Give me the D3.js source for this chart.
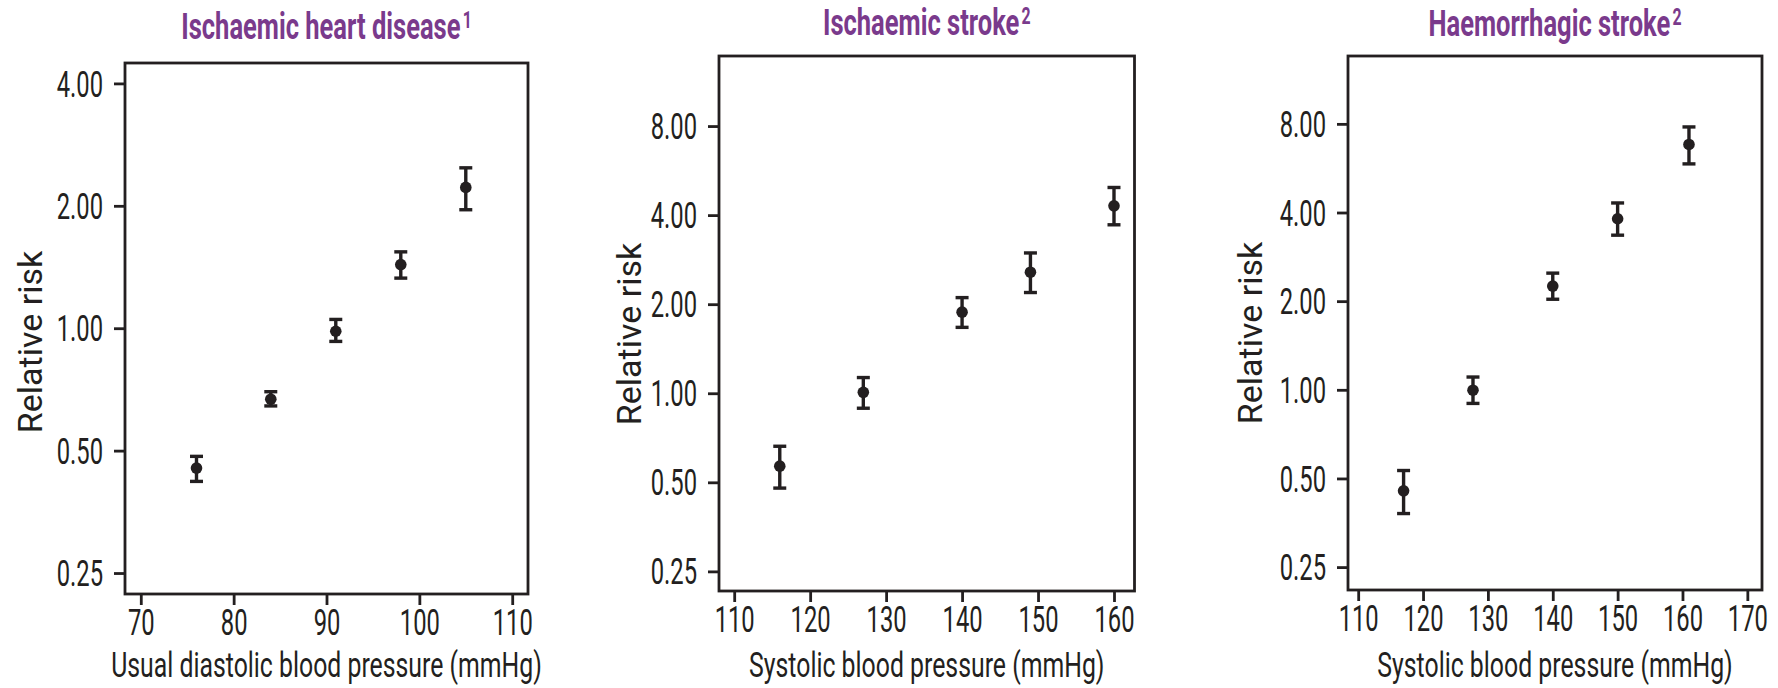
<!DOCTYPE html>
<html><head><meta charset="utf-8">
<script src="https://cdn.jsdelivr.net/npm/d3@7"></script>
<style>
body{margin:0;background:#fff;}
svg{display:block;}
text{font-family:Roboto,"Open Sans",sans-serif;fill:#231f20;}
</style></head><body>
<svg id="chart" width="1778" height="688"></svg>
<script>
// ---------- data ----------
// Ischaemic heart disease vs usual diastolic BP
const ihdBP = [76, 84, 91, 98, 105];
const ihdRR = [0.453, 0.669, 0.983, 1.434, 2.22];
const ihdLo = [0.420, 0.644, 0.928, 1.328, 1.956];
const ihdHi = [0.484, 0.698, 1.051, 1.541, 2.48];
// Ischaemic stroke vs systolic BP
const isBP = [116, 127, 140, 149, 160];
const isRR = [0.567, 1.007, 1.88, 2.565, 4.30];
const isLo = [0.478, 0.89, 1.67, 2.19, 3.71];
const isHi = [0.662, 1.13, 2.105, 2.98, 4.96];
// Haemorrhagic stroke vs systolic BP
const hsBP = [117, 127.7, 140, 150, 161];
const hsRR = [0.454, 0.997, 2.25, 3.81, 6.81];
const hsLo = [0.380, 0.899, 2.03, 3.35, 5.85];
const hsHi = [0.532, 1.105, 2.49, 4.31, 7.81];
// tick labels
const ihdXTicks = [70, 80, 90, 100, 110];
const isXTicks = [110, 120, 130, 140, 150, 160];
const hsXTicks = [110, 120, 130, 140, 150, 160, 170];
const ihdYTicks = [0.25, 0.5, 1, 2, 4];
const strokeYTicks = [0.25, 0.5, 1, 2, 4, 8];
// titles
const titles = ["Ischaemic heart disease", "Ischaemic stroke", "Haemorrhagic stroke"];
const titleSups = ["1", "2", "2"];
const xTitles = ["Usual diastolic blood pressure (mmHg)", "Systolic blood pressure (mmHg)", "Systolic blood pressure (mmHg)"];
const yTitle = "Relative risk";

// ---------- layout ----------
const INK = "#231f20", PURPLE = "#7a3a8c";
const panels = [
  {bp: ihdBP, rr: ihdRR, lo: ihdLo, hi: ihdHi, xTicks: ihdXTicks, yTicks: ihdYTicks,
   box: {l: 125, r: 528, t: 63, b: 594}, xDom: [68.3, 111.7], yDom: [0.222, 4.49],
   yLabX: 42, yLabY: 342, titleY: 39},
  {bp: isBP, rr: isRR, lo: isLo, hi: isHi, xTicks: isXTicks, yTicks: strokeYTicks,
   box: {l: 719, r: 1134.5, t: 56, b: 591}, xDom: [108.0, 162.7], yDom: [0.2146, 13.8],
   yLabX: 641, yLabY: 334, titleY: 35},
  {bp: hsBP, rr: hsRR, lo: hsLo, hi: hsHi, xTicks: hsXTicks, yTicks: strokeYTicks,
   box: {l: 1348, r: 1762, t: 56, b: 590}, xDom: [108.43, 172.26], yDom: [0.209, 13.6],
   yLabX: 1262, yLabY: 333, titleY: 36}
];

const svg = d3.select("#chart");

// horizontally condense texts via a transform (keeps anchor point fixed)
function squeeze(sel, k, rot) {
  sel.each(function () {
    const x = +(this.getAttribute("x") || 0), y = +(this.getAttribute("y") || 0);
    this.setAttribute("x", 0);
    this.setAttribute("y", 0);
    this.setAttribute("transform",
      `translate(${x},${y})` + (rot ? ` rotate(${rot})` : "") + ` scale(${k},1)`);
  });
}

panels.forEach((p, i) => {
  const g = svg.append("g");
  const x = d3.scaleLinear().domain(p.xDom).range([p.box.l, p.box.r]);
  const y = d3.scaleLog().base(2).domain(p.yDom).range([p.box.b, p.box.t]);
  const cx = (p.box.l + p.box.r) / 2;

  // y axis
  const ya = g.append("g").attr("transform", `translate(${p.box.l},0)`)
    .call(d3.axisLeft(y).tickValues(p.yTicks).tickFormat(d3.format(".2f"))
      .tickSize(11).tickSizeOuter(0).tickPadding(11));
  ya.select(".domain").remove();
  ya.attr("font-family", null).attr("font-size", null);
  ya.selectAll("line").attr("stroke", INK).attr("stroke-width", 2.8);
  ya.selectAll("text").attr("font-size", 36).attr("fill", INK).attr("dy", "0.35em").call(squeeze, 0.66);

  // x axis
  const xa = g.append("g").attr("transform", `translate(0,${p.box.b})`)
    .call(d3.axisBottom(x).tickValues(p.xTicks).tickFormat(d3.format("d"))
      .tickSize(11).tickSizeOuter(0).tickPadding(4));
  xa.select(".domain").remove();
  xa.attr("font-family", null).attr("font-size", null);
  xa.selectAll("line").attr("stroke", INK).attr("stroke-width", 2.8);
  xa.selectAll("text").attr("font-size", 36).attr("fill", INK).call(squeeze, 0.66);

  // box
  g.append("rect")
    .attr("x", p.box.l).attr("y", p.box.t)
    .attr("width", p.box.r - p.box.l).attr("height", p.box.b - p.box.t)
    .attr("fill", "none").attr("stroke", INK).attr("stroke-width", 2.8);

  // error bars & points
  const data = p.bp.map((v, j) => ({x: v, rr: p.rr[j], lo: p.lo[j], hi: p.hi[j]}));
  const eb = g.append("g").attr("stroke", INK).attr("stroke-width", 3.4);
  eb.selectAll("line.v").data(data).join("line").attr("class", "v")
    .attr("x1", d => x(d.x)).attr("x2", d => x(d.x))
    .attr("y1", d => y(d.lo)).attr("y2", d => y(d.hi));
  eb.selectAll("line.ch").data(data).join("line").attr("class", "ch")
    .attr("x1", d => x(d.x) - 6.5).attr("x2", d => x(d.x) + 6.5)
    .attr("y1", d => y(d.hi)).attr("y2", d => y(d.hi));
  eb.selectAll("line.cl").data(data).join("line").attr("class", "cl")
    .attr("x1", d => x(d.x) - 6.5).attr("x2", d => x(d.x) + 6.5)
    .attr("y1", d => y(d.lo)).attr("y2", d => y(d.lo));
  g.selectAll("circle").data(data).join("circle")
    .attr("cx", d => x(d.x)).attr("cy", d => y(d.rr)).attr("r", 5.8).attr("fill", INK);

  // title with separate superscript, centred as a whole
  const kT = 0.69, kS = 0.66;
  const t = g.append("text").attr("font-weight", 700).attr("font-size", 37)
    .style("fill", PURPLE).text(titles[i]);
  const s = g.append("text").attr("font-weight", 700).attr("font-size", 24)
    .style("fill", PURPLE).text(titleSups[i]);
  const wT = t.node().getComputedTextLength() * kT;
  const wS = s.node().getComputedTextLength() * kS;
  const gap = 2;
  const x0 = cx - (wT + gap + wS) / 2;
  t.attr("x", x0).attr("y", p.titleY).call(squeeze, kT);
  s.attr("x", x0 + wT + gap).attr("y", p.titleY - 11).call(squeeze, kS);

  // x title
  g.append("text").attr("x", cx).attr("y", 677).attr("text-anchor", "middle")
    .attr("font-size", 36).text(xTitles[i]).call(squeeze, 0.69);

  // y title
  g.append("text").attr("x", p.yLabX).attr("y", p.yLabY)
    .attr("text-anchor", "middle").attr("font-size", 34).text(yTitle)
    .call(squeeze, 1.0, -90);
});
</script>
</body></html>
